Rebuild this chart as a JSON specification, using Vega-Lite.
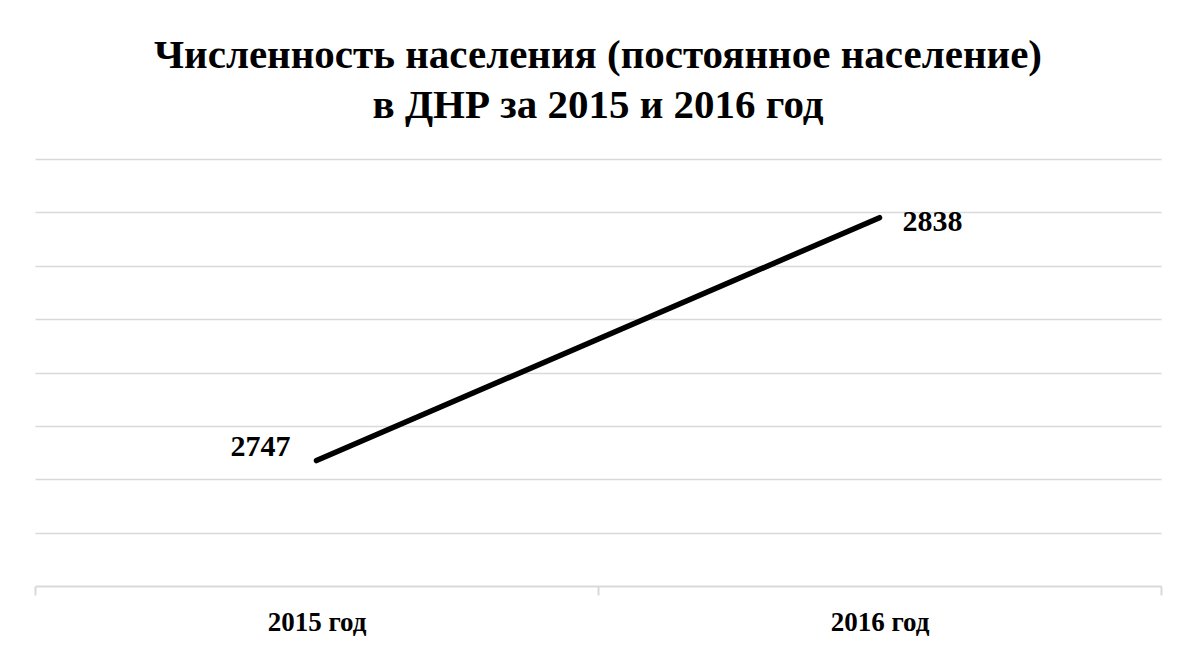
{
  "$schema": "https://vega.github.io/schema/vega-lite/v6.json",
  "autosize": {"type": "none"},
  "width": 1126,
  "height": 427,
  "padding": {"left": 35, "top": 159, "right": 19, "bottom": 59},
  "background": "white",
  "title": {
    "text": ["Численность населения (постоянное население)", "в ДНР за 2015 и 2016 год"],
    "font": "Liberation Serif",
    "fontSize": 41,
    "fontWeight": "bold",
    "color": "#000000",
    "lineHeight": 50,
    "anchor": "middle",
    "offset": 32
  },
  "config": {
    "view": {"stroke": null},
    "font": "Liberation Serif"
  },
  "data": {
    "values": [
      {"year": "2015 год", "population": 2747},
      {"year": "2016 год", "population": 2838}
    ]
  },
  "encoding": {
    "x": {
      "field": "year",
      "type": "nominal",
      "sort": null,
      "scale": {"type": "band", "paddingInner": 0, "paddingOuter": 0},
      "axis": {
        "title": null,
        "labelAngle": 0,
        "labelFont": "Liberation Serif",
        "labelFontSize": 27,
        "labelFontWeight": "bold",
        "labelColor": "#000000",
        "labelPadding": 14,
        "tickBand": "extent",
        "tickSize": 9,
        "tickColor": "#d9d9d9",
        "tickWidth": 2,
        "domainColor": "#d9d9d9",
        "domainWidth": 2,
        "grid": false
      }
    },
    "y": {
      "field": "population",
      "type": "quantitative",
      "scale": {"domain": [2700, 2860], "nice": false, "zero": false},
      "axis": {
        "title": null,
        "labels": false,
        "ticks": false,
        "domain": false,
        "grid": true,
        "gridColor": "#d9d9d9",
        "gridWidth": 1.5,
        "values": [2720, 2740, 2760, 2780, 2800, 2820, 2840, 2860]
      }
    }
  },
  "layer": [
    {
      "mark": {"type": "line", "color": "#000000", "strokeWidth": 5.5, "strokeCap": "round"}
    },
    {
      "transform": [{"filter": "datum.year === '2015 год'"}],
      "mark": {"type": "text", "align": "right", "baseline": "middle", "dx": -26, "dy": -14, "font": "Liberation Serif", "fontSize": 30, "fontWeight": "bold", "color": "#000000"},
      "encoding": {"text": {"field": "population", "type": "quantitative", "format": "d"}}
    },
    {
      "transform": [{"filter": "datum.year === '2016 год'"}],
      "mark": {"type": "text", "align": "left", "baseline": "middle", "dx": 23, "dy": 4, "font": "Liberation Serif", "fontSize": 30, "fontWeight": "bold", "color": "#000000"},
      "encoding": {"text": {"field": "population", "type": "quantitative", "format": "d"}}
    }
  ]
}
